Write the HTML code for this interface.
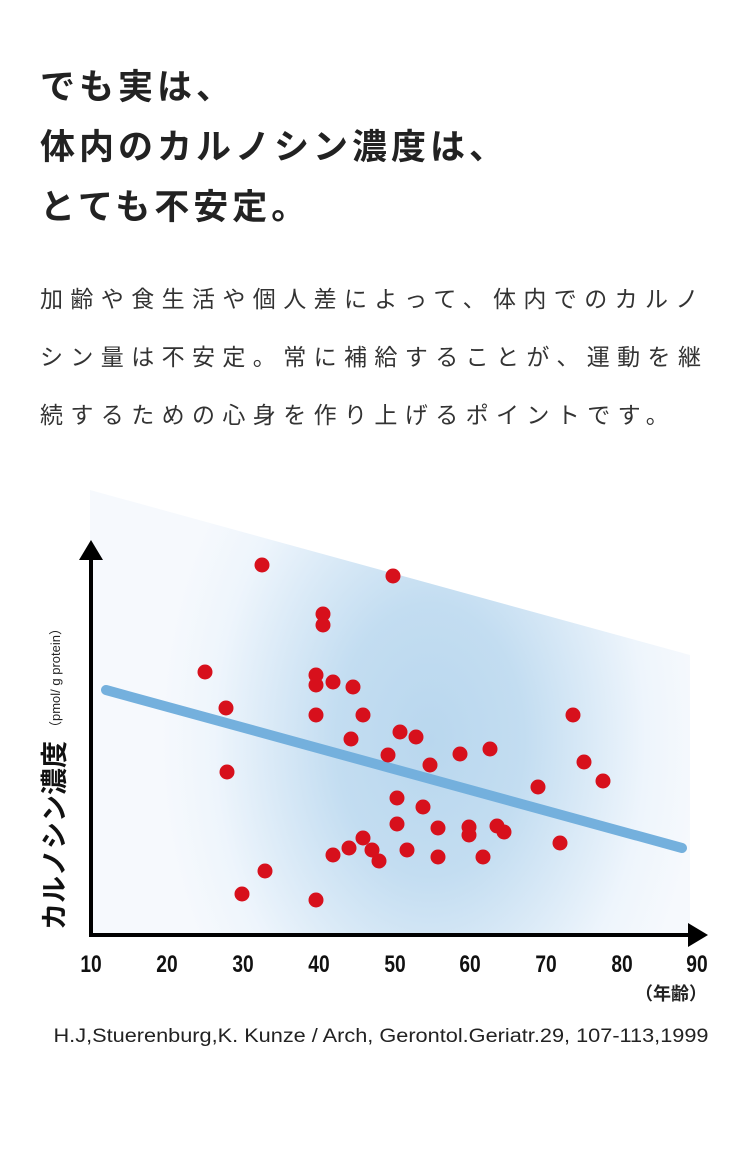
<!DOCTYPE html>
<html><head><meta charset="utf-8"><style>
html,body{margin:0;padding:0;background:#fff;}
body{width:750px;height:1168px;position:relative;overflow:hidden;font-family:"Liberation Sans","Noto Sans CJK JP",sans-serif;color:#222;}
h1{position:absolute;left:40px;top:58px;margin:0;font-size:35px;line-height:60px;font-weight:700;letter-spacing:4px;color:#222;white-space:nowrap;}
p{position:absolute;left:40px;top:270px;margin:0;font-size:23px;line-height:58px;letter-spacing:7.4px;color:#333;white-space:nowrap;}
</style></head><body>
<h1>でも実は、<br>体内のカルノシン濃度は、<br>とても不安定。</h1>
<p>加齢や食生活や個人差によって、体内でのカルノ<br>シン量は不安定。常に補給することが、運動を継<br>続するための心身を作り上げるポイントです。</p>
<svg width="750" height="1168" style="position:absolute;left:0;top:0" xmlns="http://www.w3.org/2000/svg">
<defs>
<radialGradient id="g" cx="430" cy="740" r="300" gradientUnits="userSpaceOnUse" gradientTransform="translate(430 740) scale(0.9 1.3) translate(-430 -740)">
<stop offset="0" stop-color="#b9d7ee"/><stop offset="0.35" stop-color="#c3ddf1"/><stop offset="0.8" stop-color="#eef5fc"/><stop offset="1" stop-color="#f6f9fd"/></radialGradient>
</defs>
<polygon points="90,490 690,655 690,935 90,935" fill="url(#g)"/>
<line x1="106" y1="690" x2="682" y2="848" stroke="#74b0dd" stroke-width="10" stroke-linecap="round"/>
<g fill="#d7101c">
<circle cx="262" cy="565" r="7.5"/><circle cx="393" cy="576" r="7.5"/><circle cx="323" cy="614" r="7.5"/><circle cx="323" cy="625" r="7.5"/><circle cx="205" cy="672" r="7.5"/><circle cx="316" cy="675" r="7.5"/><circle cx="316" cy="685" r="7.5"/><circle cx="333" cy="682" r="7.5"/><circle cx="353" cy="687" r="7.5"/><circle cx="226" cy="708" r="7.5"/><circle cx="316" cy="715" r="7.5"/><circle cx="363" cy="715" r="7.5"/><circle cx="351" cy="739" r="7.5"/><circle cx="400" cy="732" r="7.5"/><circle cx="416" cy="737" r="7.5"/><circle cx="388" cy="755" r="7.5"/><circle cx="460" cy="754" r="7.5"/><circle cx="490" cy="749" r="7.5"/><circle cx="430" cy="765" r="7.5"/><circle cx="573" cy="715" r="7.5"/><circle cx="584" cy="762" r="7.5"/><circle cx="603" cy="781" r="7.5"/><circle cx="538" cy="787" r="7.5"/><circle cx="397" cy="798" r="7.5"/><circle cx="423" cy="807" r="7.5"/><circle cx="397" cy="824" r="7.5"/><circle cx="438" cy="828" r="7.5"/><circle cx="469" cy="827" r="7.5"/><circle cx="469" cy="835" r="7.5"/><circle cx="497" cy="826" r="7.5"/><circle cx="504" cy="832" r="7.5"/><circle cx="363" cy="838" r="7.5"/><circle cx="349" cy="848" r="7.5"/><circle cx="333" cy="855" r="7.5"/><circle cx="372" cy="850" r="7.5"/><circle cx="379" cy="861" r="7.5"/><circle cx="407" cy="850" r="7.5"/><circle cx="438" cy="857" r="7.5"/><circle cx="483" cy="857" r="7.5"/><circle cx="560" cy="843" r="7.5"/><circle cx="227" cy="772" r="7.5"/><circle cx="265" cy="871" r="7.5"/><circle cx="242" cy="894" r="7.5"/><circle cx="316" cy="900" r="7.5"/>
</g>
<line x1="91" y1="555" x2="91" y2="937" stroke="#000" stroke-width="4"/>
<line x1="89" y1="935" x2="692" y2="935" stroke="#000" stroke-width="4"/>
<polygon points="91,540 79,560 103,560" fill="#000"/>
<polygon points="708,935 688,923 688,947" fill="#000"/>
<g font-family="Liberation Sans, sans-serif" font-weight="700" font-size="24" text-anchor="middle" fill="#111">
<text x="91" y="972" transform="translate(91 0) scale(0.8 1) translate(-91 0)">10</text>
<text x="167" y="972" transform="translate(167 0) scale(0.8 1) translate(-167 0)">20</text>
<text x="243" y="972" transform="translate(243 0) scale(0.8 1) translate(-243 0)">30</text>
<text x="319" y="972" transform="translate(319 0) scale(0.8 1) translate(-319 0)">40</text>
<text x="395" y="972" transform="translate(395 0) scale(0.8 1) translate(-395 0)">50</text>
<text x="470" y="972" transform="translate(470 0) scale(0.8 1) translate(-470 0)">60</text>
<text x="546" y="972" transform="translate(546 0) scale(0.8 1) translate(-546 0)">70</text>
<text x="622" y="972" transform="translate(622 0) scale(0.8 1) translate(-622 0)">80</text>
<text x="697" y="972" transform="translate(697 0) scale(0.8 1) translate(-697 0)">90</text>
</g>
<text x="671" y="1000" font-family="Liberation Sans, Noto Sans CJK JP, sans-serif" font-weight="700" font-size="18" text-anchor="middle" fill="#222">（年齢）</text>
<text x="381" y="1042" font-family="Liberation Sans, sans-serif" font-size="19" text-anchor="middle" fill="#222" textLength="655" lengthAdjust="spacingAndGlyphs">H.J,Stuerenburg,K. Kunze / Arch, Gerontol.Geriatr.29, 107-113,1999</text>
<g transform="translate(64 930) rotate(-90)">
<text x="0" y="0" font-family="Liberation Sans, Noto Sans CJK JP, sans-serif" font-weight="700" font-size="27" fill="#111">カルノシン濃度</text>
<text x="196" y="-4" font-family="Liberation Sans, Noto Sans CJK JP, sans-serif" font-size="13" fill="#222">（pmol/ g protein）</text>
</g>
</svg>
</body></html>
